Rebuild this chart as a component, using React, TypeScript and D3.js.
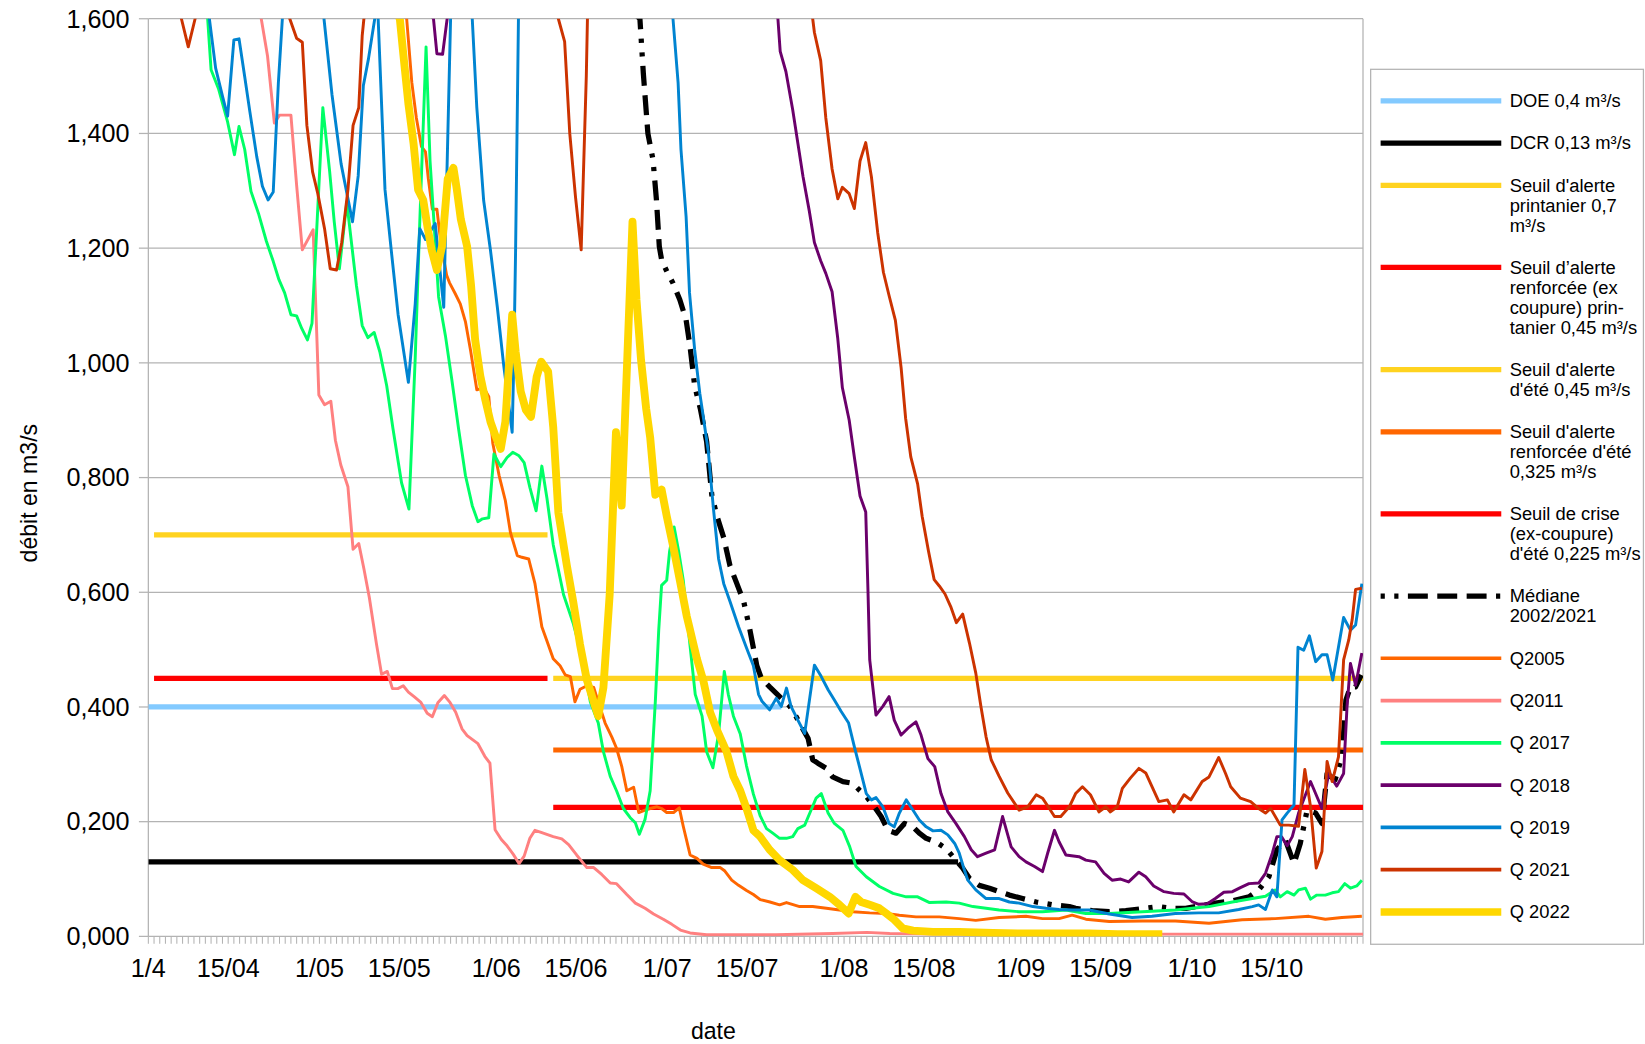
import React from 'react';
import * as d3 from 'd3';

type Pt = [number, number];

// ---------- axis data ----------
const tickDays = [0, 14, 30, 44, 61, 75, 91, 105, 122, 136, 153, 167, 183, 197];
const tickLabels = ['1/4', '15/04', '1/05', '15/05', '1/06', '15/06', '1/07', '15/07', '1/08', '15/08', '1/09', '15/09', '1/10', '15/10'];
const yTicks = [0, 0.2, 0.4, 0.6, 0.8, 1.0, 1.2, 1.4, 1.6];
const lastDay = 213; // 31/10, day 0 = 1/4

// ---------- thresholds ----------
const doe: Pt[] = [[0, 0.4], [111, 0.4]];
const dcr: Pt[] = [[0, 0.13], [142, 0.13]];
const seuilPrintanier: Pt[] = [[1, 0.7], [70, 0.7]];
const seuilRenfPrintanier: Pt[] = [[1, 0.45], [70, 0.45]];
const seuilEte: Pt[] = [[71, 0.45], [213, 0.45]];
const seuilRenfEte: Pt[] = [[71, 0.325], [213, 0.325]];
const seuilCrise: Pt[] = [[71, 0.225], [213, 0.225]];

// ---------- series (day since 1/4, débit m3/s) ----------
const mediane: Pt[] = [[0, 2.4], [86.2, 1.6], [86.8, 1.505], [87.6, 1.4], [88.5, 1.354], [89.1, 1.284], [89.6, 1.203], [90, 1.18], [90.8, 1.162], [92, 1.139], [93.2, 1.11], [94.3, 1.075], [95, 1.028], [95.8, 0.96], [96.8, 0.92], [97.9, 0.863], [98.8, 0.77], [99.7, 0.733], [100.9, 0.695], [102, 0.646], [103.2, 0.615], [104.4, 0.584], [105.5, 0.534], [106.7, 0.472], [107.5, 0.45], [108.95, 0.435], [110.7, 0.418], [112.5, 0.401], [113.6, 0.383], [115.7, 0.345], [116.5, 0.308], [117.4, 0.302], [118.9, 0.293], [120, 0.278], [121.8, 0.27], [123.5, 0.267], [124.7, 0.255], [125.9, 0.244], [127.3, 0.226], [128.5, 0.209], [129.7, 0.185], [131.1, 0.18], [132.6, 0.197], [134.1, 0.191], [135.2, 0.18], [136.4, 0.171], [138.1, 0.165], [139.9, 0.153], [141.6, 0.133], [142.8, 0.119], [144, 0.101], [145.7, 0.089], [147.5, 0.084], [149.2, 0.078], [151, 0.072], [153.3, 0.066], [155.7, 0.06], [158.6, 0.055], [161.5, 0.052], [162.6, 0.049], [165.5, 0.045], [168.5, 0.043], [171.4, 0.045], [174.9, 0.049], [177.2, 0.052], [179.5, 0.049], [181.9, 0.049], [184.2, 0.053], [187.1, 0.058], [190.1, 0.062], [193, 0.069], [194.7, 0.081], [196.5, 0.104], [197.9, 0.151], [199.4, 0.168], [200.9, 0.127], [202, 0.162], [203.2, 0.22], [204.7, 0.215], [205.8, 0.197], [206.7, 0.284], [208.1, 0.273], [209.3, 0.313], [210, 0.412], [210.8, 0.435], [211.7, 0.435], [212.7, 0.456]];

const q2005: Pt[] = [[0, 2.4], [45.3, 1.6], [46.2, 1.489], [47, 1.427], [47.9, 1.377], [48.6, 1.368], [49.1, 1.321], [49.8, 1.268], [50.6, 1.268], [51.3, 1.209], [52.3, 1.153], [52.8, 1.14], [53.8, 1.121], [54.7, 1.103], [55.6, 1.072], [56.5, 1.022], [57.6, 0.953], [58.8, 0.957], [59.7, 0.941], [60.4, 0.86], [61.5, 0.804], [62.6, 0.76], [63.5, 0.704], [64.7, 0.664], [65.5, 0.661], [66.7, 0.658], [67.8, 0.615], [69, 0.54], [69.9, 0.515], [71, 0.484], [72.2, 0.472], [73.1, 0.456], [74, 0.453], [74.8, 0.409], [75.7, 0.431], [76.9, 0.437], [78.1, 0.434], [78.9, 0.409], [80.1, 0.372], [81.3, 0.347], [82.1, 0.328], [83, 0.297], [83.9, 0.254], [85.1, 0.26], [86, 0.216], [87.1, 0.22], [88, 0.223], [89.2, 0.226], [90, 0.223], [90.9, 0.216], [92.1, 0.216], [93.1, 0.224], [93.8, 0.192], [95, 0.142], [96.2, 0.136], [97.3, 0.126], [98.8, 0.12], [100.3, 0.12], [101.1, 0.114], [102.3, 0.098], [103.5, 0.089], [104.9, 0.08], [106.1, 0.073], [107.3, 0.064], [109, 0.06], [110.7, 0.055], [111.9, 0.059], [114.2, 0.052], [116.5, 0.052], [118.9, 0.049], [121.2, 0.046], [123.5, 0.043], [126.5, 0.041], [129.4, 0.04], [131.7, 0.037], [134.6, 0.034], [138.7, 0.034], [142.2, 0.031], [145.1, 0.028], [149.2, 0.033], [153.9, 0.035], [156.8, 0.031], [159.7, 0.031], [162, 0.037], [164.4, 0.03], [168.5, 0.026], [174.3, 0.027], [180.1, 0.027], [186, 0.023], [191.8, 0.029], [197.6, 0.031], [203.5, 0.035], [206.4, 0.03], [209.3, 0.033], [212.8, 0.035]];

const q2011: Pt[] = [[0, 2.2], [19.8, 1.6], [20.9, 1.535], [22.1, 1.418], [23, 1.432], [25, 1.432], [26, 1.31], [27, 1.197], [28.9, 1.232], [29.9, 0.944], [30.9, 0.927], [32, 0.933], [32.8, 0.865], [33.75, 0.822], [35, 0.784], [35.9, 0.675], [36.9, 0.685], [37.8, 0.641], [38.75, 0.591], [40, 0.51], [40.9, 0.457], [41.9, 0.462], [42.8, 0.432], [43.75, 0.432], [44.7, 0.437], [45.6, 0.426], [46.6, 0.418], [47.8, 0.408], [48.9, 0.389], [49.8, 0.383], [50.8, 0.408], [51.9, 0.42], [52.9, 0.408], [53.9, 0.391], [55, 0.362], [55.9, 0.35], [57.8, 0.336], [59, 0.314], [59.9, 0.302], [60.8, 0.186], [61.9, 0.169], [62.9, 0.158], [64, 0.143], [65, 0.127], [65.9, 0.14], [66.9, 0.171], [67.8, 0.185], [69, 0.181], [71, 0.174], [72.5, 0.17], [73.7, 0.16], [75.1, 0.142], [76.9, 0.12], [78.1, 0.12], [79.5, 0.108], [81, 0.093], [82.1, 0.092], [83.9, 0.073], [85.4, 0.058], [87.1, 0.049], [88.6, 0.039], [90.3, 0.03], [91.8, 0.021], [93.3, 0.011], [95, 0.006], [97.9, 0.003], [110, 0.003], [120, 0.005], [126, 0.007], [130, 0.005], [140, 0.004], [160, 0.004], [180, 0.004], [213, 0.004]];

const q2017: Pt[] = [[0, 2.0], [10.4, 1.6], [11, 1.511], [12.3, 1.478], [13.9, 1.42], [15.1, 1.363], [15.9, 1.412], [16.9, 1.372], [18, 1.299], [19.3, 1.261], [20.7, 1.212], [21.9, 1.177], [22.9, 1.145], [23.9, 1.122], [25, 1.084], [26, 1.082], [26.9, 1.06], [27.9, 1.04], [28.7, 1.069], [30.6, 1.445], [31.8, 1.333], [32.6, 1.246], [33.5, 1.164], [34.8, 1.28], [36.5, 1.134], [37.5, 1.065], [38.5, 1.044], [39.6, 1.053], [40.6, 1.019], [41.8, 0.96], [42.9, 0.885], [44.4, 0.791], [45.7, 0.745], [46.8, 1.009], [47.6, 1.246], [48.7, 1.551], [49.4, 1.352], [50, 1.259], [50.9, 1.115], [52.1, 1.047], [53.2, 0.972], [54.4, 0.885], [55.6, 0.804], [56.8, 0.751], [57.8, 0.723], [58.6, 0.728], [59.7, 0.73], [60.6, 0.841], [61.8, 0.819], [62.9, 0.835], [63.9, 0.844], [65, 0.838], [65.9, 0.826], [66.9, 0.783], [68, 0.742], [69, 0.82], [69.9, 0.764], [71, 0.683], [72.8, 0.596], [74.5, 0.546], [76.3, 0.478], [77.5, 0.409], [78.9, 0.372], [79.8, 0.322], [81, 0.279], [82.1, 0.254], [83.3, 0.223], [84.5, 0.207], [85.4, 0.198], [86.1, 0.178], [87.1, 0.204], [88, 0.254], [88.9, 0.409], [89.5, 0.534], [90, 0.612], [90.9, 0.621], [91.4, 0.671], [92.2, 0.714], [93, 0.671], [93.8, 0.621], [94.7, 0.534], [95.9, 0.422], [97.1, 0.384], [97.9, 0.322], [99, 0.294], [100, 0.353], [101, 0.462], [101.7, 0.422], [102.6, 0.384], [103.8, 0.353], [104.9, 0.297], [106.1, 0.248], [107.3, 0.21], [108.4, 0.188], [109.5, 0.18], [110.7, 0.171], [111.9, 0.171], [113, 0.174], [113.9, 0.188], [115.1, 0.194], [116.2, 0.22], [117.1, 0.241], [118, 0.249], [119.2, 0.215], [120.3, 0.197], [121.8, 0.185], [123, 0.156], [124.1, 0.122], [125.9, 0.104], [128.2, 0.087], [130.6, 0.075], [132.9, 0.069], [134.9, 0.069], [137, 0.059], [139.9, 0.06], [142.2, 0.058], [144.6, 0.052], [146.9, 0.049], [149.2, 0.046], [152.7, 0.043], [156.8, 0.043], [160.9, 0.046], [164.4, 0.04], [168.5, 0.04], [174.3, 0.043], [180.1, 0.046], [186, 0.052], [190.1, 0.06], [193.6, 0.066], [195.9, 0.07], [197.6, 0.081], [198.5, 0.069], [199.7, 0.078], [200.9, 0.072], [201.7, 0.081], [202.9, 0.084], [203.8, 0.065], [204.9, 0.072], [206.4, 0.072], [207.6, 0.076], [208.7, 0.078], [209.8, 0.092], [210.8, 0.084], [211.9, 0.088], [212.8, 0.098]];

const q2018: Pt[] = [[0, 2.2], [50, 1.6], [50.6, 1.539], [51.6, 1.538], [52.4, 1.6], [80, 2.4], [110.4, 1.6], [110.8, 1.543], [111.8, 1.508], [113, 1.441], [113.9, 1.383], [114.8, 1.325], [115.9, 1.265], [116.8, 1.21], [117.9, 1.178], [118.8, 1.156], [119.9, 1.124], [120.9, 1.042], [121.7, 0.957], [122.9, 0.9], [123.8, 0.836], [124.8, 0.768], [125.8, 0.74], [126.2, 0.6], [126.5, 0.482], [127.6, 0.386], [128.8, 0.401], [129.9, 0.418], [130.8, 0.377], [132, 0.351], [133.2, 0.363], [134.6, 0.374], [135.5, 0.351], [136.7, 0.31], [137.9, 0.296], [139, 0.249], [140.2, 0.217], [141.6, 0.197], [143.1, 0.174], [144.3, 0.151], [145.4, 0.139], [146.9, 0.145], [148.4, 0.151], [149.8, 0.209], [151.3, 0.156], [152.7, 0.139], [153.9, 0.13], [155.4, 0.122], [156.8, 0.113], [157.7, 0.145], [158.9, 0.185], [159.7, 0.165], [160.9, 0.142], [163.2, 0.139], [164.4, 0.133], [166.1, 0.13], [167.6, 0.11], [169, 0.098], [170.5, 0.1], [171.9, 0.095], [173.7, 0.112], [174.9, 0.104], [176.3, 0.088], [178.1, 0.078], [179.8, 0.075], [181.6, 0.074], [183.1, 0.06], [184.2, 0.056], [185.7, 0.057], [187.1, 0.066], [188.6, 0.077], [190.1, 0.078], [191.5, 0.085], [193, 0.092], [194.7, 0.093], [195.9, 0.11], [197.1, 0.145], [197.9, 0.174], [198.7, 0.174], [199.7, 0.158], [200.6, 0.174], [201.7, 0.215], [203.8, 0.27], [205.8, 0.223], [207, 0.284], [208.4, 0.262], [209.6, 0.284], [210.2, 0.401], [210.8, 0.476], [211.7, 0.438], [212.8, 0.494]];

const q2019: Pt[] = [[0, 2.0], [10.7, 1.6], [11.8, 1.514], [13, 1.465], [13.9, 1.43], [15, 1.563], [15.9, 1.565], [16.9, 1.499], [17.8, 1.438], [19, 1.36], [20, 1.308], [21, 1.284], [21.9, 1.298], [22.8, 1.488], [23.5, 1.6], [27, 2.2], [30.8, 1.6], [32.2, 1.468], [33.8, 1.347], [35.8, 1.246], [36.8, 1.326], [37.7, 1.483], [38.6, 1.53], [39.7, 1.6], [40, 1.64], [40.3, 1.6], [41.5, 1.302], [42.6, 1.196], [43.8, 1.084], [45.6, 0.966], [46.8, 1.103], [47.6, 1.234], [48.6, 1.215], [50.3, 1.243], [51.8, 1.097], [53, 1.6], [54.5, 2.2], [56.8, 1.6], [57.6, 1.445], [58.8, 1.283], [60, 1.196], [61.2, 1.097], [62.3, 0.997], [63.8, 0.879], [64.1, 1.009], [64.4, 1.196], [64.9, 1.6], [78, 2.3], [92, 1.6], [92.9, 1.488], [93.4, 1.372], [94.3, 1.255], [94.9, 1.122], [95.8, 1.023], [96.7, 0.947], [97.3, 0.907], [98.2, 0.845], [99.1, 0.745], [100, 0.658], [100.9, 0.615], [102, 0.584], [103.5, 0.54], [104.9, 0.503], [106.1, 0.472], [107, 0.422], [107.6, 0.41], [108.95, 0.395], [110.1, 0.415], [111, 0.401], [111.9, 0.433], [112.7, 0.401], [113.9, 0.377], [115.1, 0.354], [116.8, 0.473], [118, 0.453], [119.2, 0.43], [120.3, 0.412], [121.5, 0.392], [122.8, 0.372], [123.8, 0.331], [124.7, 0.296], [125.9, 0.249], [126.8, 0.238], [127.6, 0.242], [128.8, 0.226], [129.9, 0.197], [130.8, 0.191], [131.7, 0.215], [132.9, 0.238], [134.1, 0.22], [135.2, 0.203], [136.4, 0.191], [137.6, 0.184], [139, 0.185], [140.2, 0.177], [141.4, 0.162], [142.2, 0.145], [142.9, 0.122], [143.7, 0.098], [145.1, 0.081], [146.9, 0.066], [149.2, 0.066], [151, 0.06], [152.7, 0.058], [155.1, 0.052], [157.4, 0.049], [159.7, 0.047], [162, 0.046], [165, 0.046], [168.5, 0.039], [172.5, 0.033], [176, 0.035], [180.1, 0.04], [184.2, 0.041], [187.7, 0.041], [191.2, 0.047], [193.6, 0.052], [194.7, 0.055], [195.9, 0.047], [197.1, 0.081], [197.9, 0.069], [198.8, 0.203], [199.7, 0.215], [200.9, 0.229], [201.6, 0.504], [202.6, 0.499], [203.6, 0.524], [204.7, 0.479], [205.8, 0.491], [206.7, 0.491], [207.7, 0.447], [209.6, 0.556], [210.8, 0.534], [211.7, 0.543], [212.8, 0.615]];

const q2021: Pt[] = [[0, 2.0], [5.8, 1.6], [7.0, 1.551], [8.2, 1.6], [16, 2.2], [24.8, 1.6], [26, 1.566], [27, 1.559], [27.8, 1.414], [28.8, 1.333], [29.7, 1.296], [30.9, 1.234], [31.9, 1.164], [33, 1.162], [33.9, 1.209], [35, 1.302], [35.9, 1.414], [36.9, 1.445], [37.5, 1.57], [37.8, 1.6], [55, 2.3], [71.9, 1.6], [73, 1.56], [73.9, 1.4], [74.9, 1.29], [75.9, 1.197], [76.8, 1.5], [77, 1.6], [95, 2.4], [116.5, 1.6], [116.8, 1.576], [117.9, 1.527], [118.8, 1.427], [119.9, 1.338], [120.9, 1.286], [121.7, 1.306], [122.9, 1.295], [123.8, 1.269], [124.8, 1.352], [125.8, 1.384], [126.8, 1.324], [127.9, 1.227], [128.9, 1.158], [129.9, 1.117], [131, 1.074], [132, 0.992], [132.8, 0.903], [133.7, 0.836], [134.9, 0.789], [135.7, 0.732], [136.8, 0.672], [137.8, 0.622], [138.7, 0.611], [139.7, 0.597], [140.7, 0.575], [141.7, 0.547], [142.8, 0.562], [144, 0.511], [145.1, 0.459], [146, 0.401], [146.9, 0.348], [147.8, 0.308], [149.2, 0.279], [150.7, 0.25], [152.7, 0.22], [154.2, 0.226], [155.7, 0.247], [156.8, 0.241], [158, 0.223], [158.9, 0.209], [160, 0.209], [161.5, 0.226], [162.6, 0.249], [163.8, 0.261], [165.2, 0.247], [166.7, 0.217], [167.9, 0.226], [168.7, 0.217], [169.9, 0.226], [170.8, 0.258], [172.2, 0.276], [173.7, 0.293], [174.9, 0.285], [176, 0.261], [177.2, 0.235], [178.7, 0.238], [179.8, 0.217], [181.6, 0.247], [182.8, 0.238], [184.8, 0.27], [186, 0.278], [187.7, 0.312], [188.9, 0.284], [189.8, 0.261], [191.5, 0.241], [193.3, 0.235], [194.7, 0.223], [195.9, 0.215], [196.8, 0.223], [198.5, 0.194], [200, 0.194], [201.7, 0.192], [202.8, 0.291], [203.8, 0.226], [204.8, 0.119], [205.8, 0.148], [206.7, 0.305], [207.6, 0.27], [208.7, 0.313], [209.6, 0.482], [210.5, 0.517], [211.1, 0.552], [211.7, 0.605], [212.8, 0.607]];

const q2022: Pt[] = [[0, 2.4], [44.1, 1.6], [44.7, 1.539], [45.6, 1.452], [46.5, 1.383], [47.3, 1.302], [48.2, 1.284], [49, 1.234], [49.7, 1.196], [50.6, 1.162], [51.5, 1.203], [52.5, 1.321], [53.5, 1.34], [54.1, 1.302], [54.8, 1.25], [55.9, 1.203], [56.6, 1.134], [57.3, 1.041], [58.2, 0.978], [59.1, 0.935], [60, 0.897], [60.9, 0.872], [61.8, 0.85], [62.6, 0.897], [63.8, 1.084], [64.4, 1.02], [65.3, 0.95], [66.2, 0.918], [67.1, 0.906], [68.1, 0.976], [68.9, 1.002], [70.1, 0.985], [71, 0.888], [71.9, 0.739], [73.4, 0.646], [74.5, 0.584], [75.7, 0.509], [76.9, 0.447], [78.1, 0.409], [78.9, 0.384], [79.8, 0.434], [80.9, 0.596], [82, 0.879], [83, 0.751], [84.9, 1.246], [85.6, 1.11], [86.4, 1.005], [87.3, 0.92], [88, 0.87], [88.9, 0.77], [90, 0.779], [90.9, 0.733], [92.1, 0.677], [93.2, 0.621], [94.4, 0.559], [95, 0.534], [96.2, 0.484], [97.3, 0.447], [98.5, 0.391], [99.7, 0.36], [101.4, 0.322], [102.6, 0.279], [103.8, 0.254], [104.9, 0.223], [106.1, 0.185], [107.2, 0.175], [108.95, 0.151], [110.7, 0.133], [113, 0.116], [114.8, 0.098], [117.1, 0.084], [119.5, 0.069], [121.2, 0.055], [122.8, 0.04], [124, 0.069], [125, 0.06], [126.5, 0.055], [128.2, 0.049], [129.4, 0.04], [130.8, 0.029], [132.3, 0.014], [134.1, 0.01], [137.6, 0.008], [142.2, 0.008], [148.1, 0.006], [153.9, 0.005], [159.7, 0.005], [165, 0.005], [170, 0.004], [177.8, 0.004]];

// ---------- legend labels ----------
const legendLabels: string[][] = [
  ['DOE 0,4 m³/s'],
  ['DCR 0,13 m³/s'],
  ["Seuil d'alerte", 'printanier 0,7', 'm³/s'],
  ['Seuil d’alerte', 'renforcée (ex', 'coupure) prin-', 'tanier 0,45 m³/s'],
  ["Seuil d'alerte", "d'été 0,45 m³/s"],
  ["Seuil d'alerte", "renforcée d'été", '0,325 m³/s'],
  ['Seuil de crise', '(ex-coupure)', "d'été 0,225 m³/s"],
  ['Médiane', '2002/2021'],
  ['Q2005'],
  ['Q2011'],
  ['Q 2017'],
  ['Q 2018'],
  ['Q 2019'],
  ['Q 2021'],
  ['Q 2022'],
];

// ---------- layout / styles (design units, scaled to 1645x1044) ----------
const VW = 1568;
const VH = 995;
const M = { left: 141.4, right: 1299.2, top: 17.8, bottom: 892.5 };
const FONT = "'Liberation Sans', Arial, sans-serif";
const GRID = '#b3b3b3';
const MEDIAN_DASH = '4 9 4 9 19 9 19 9 19 9';

type Style = { color: string; width: number; dash?: string; legendWidth: number };
const styles: Style[] = [
  { color: '#83caff', width: 5, legendWidth: 5 },
  { color: '#000000', width: 5, legendWidth: 5 },
  { color: '#ffd320', width: 5, legendWidth: 5 },
  { color: '#ff0000', width: 5, legendWidth: 5 },
  { color: '#ffd320', width: 5, legendWidth: 5 },
  { color: '#ff6600', width: 5, legendWidth: 5 },
  { color: '#ff0000', width: 5, legendWidth: 5 },
  { color: '#000000', width: 5, dash: MEDIAN_DASH, legendWidth: 5 },
  { color: '#ff6600', width: 2.8, legendWidth: 3.5 },
  { color: '#ff8080', width: 2.8, legendWidth: 3.5 },
  { color: '#00ff66', width: 2.8, legendWidth: 3.5 },
  { color: '#6b006b', width: 2.8, legendWidth: 3.5 },
  { color: '#0084d1', width: 2.8, legendWidth: 3.5 },
  { color: '#cc3300', width: 2.8, legendWidth: 3.5 },
  { color: '#ffd700', width: 7.5, legendWidth: 7 },
];
const seriesData: Pt[][] = [doe, dcr, seuilPrintanier, seuilRenfPrintanier, seuilEte, seuilRenfEte, seuilCrise, mediane, q2005, q2011, q2017, q2018, q2019, q2021, q2022];

const fmt = (v: number) => d3.format('.3f')(v).replace('.', ',');

export default function App() {
  const x = d3.scaleLinear().domain([0, lastDay]).range([M.left, M.right]);
  const y = d3.scaleLinear().domain([0, 1.6]).range([M.bottom, M.top]);
  const line = d3.line<Pt>().x((d) => x(d[0])).y((d) => y(d[1]));
  const days = d3.range(0, lastDay + 1);

  // legend layout
  const legX0 = 1316, legX1 = 1431, legTextX = 1439;
  const step = 40.3, lh = 19;
  let ly = 96;
  const legendYs: number[] = [];
  legendLabels.forEach((lines) => {
    legendYs.push(ly);
    ly += step + lh * (lines.length - 1);
  });

  return (
    <svg
      width={1645}
      height={1044}
      viewBox={`0 0 ${VW} ${VH}`}
      style={{ position: 'absolute', left: 0, top: 0, display: 'block', background: '#fff' }}
      fontFamily={FONT}
    >
      <rect x={0} y={0} width={VW} height={VH} fill="#fff" />
      <defs>
        <clipPath id="plotClip">
          <rect x={M.left} y={M.top} width={M.right - M.left} height={M.bottom - M.top} />
        </clipPath>
      </defs>

      {/* grid */}
      {yTicks.map((t) => (
        <line key={'g' + t} x1={M.left} x2={M.right} y1={y(t)} y2={y(t)} stroke={GRID} strokeWidth={1.2} />
      ))}
      <line x1={M.left} x2={M.left} y1={M.top} y2={M.bottom} stroke={GRID} strokeWidth={1.2} />
      <line x1={M.right} x2={M.right} y1={M.top} y2={M.bottom} stroke={GRID} strokeWidth={1.2} />

      {/* y ticks and labels */}
      {yTicks.map((t) => (
        <g key={'y' + t}>
          <line x1={M.left - 9} x2={M.left} y1={y(t)} y2={y(t)} stroke={GRID} strokeWidth={1.2} />
          <text x={123.5} y={y(t)} dy="0.35em" textAnchor="end" fontSize={24} fill="#000">
            {fmt(t)}
          </text>
        </g>
      ))}

      {/* x minor ticks */}
      {days.map((d) => (
        <line key={'t' + d} x1={x(d)} x2={x(d)} y1={M.bottom} y2={M.bottom + 7} stroke={GRID} strokeWidth={1} />
      ))}
      {tickDays.map((d, i) => (
        <text key={'xl' + d} x={x(d)} y={931} textAnchor="middle" fontSize={24} fill="#000">
          {tickLabels[i]}
        </text>
      ))}

      {/* axis titles */}
      <text transform="translate(35,470) rotate(-90)" textAnchor="middle" fontSize={22} fill="#000">
        débit en m3/s
      </text>
      <text x={680} y={990} textAnchor="middle" fontSize={22} fill="#000">
        date
      </text>

      {/* series */}
      <g clipPath="url(#plotClip)">
        {seriesData.map((data, i) => (
          <path
            key={'s' + i}
            d={line(data) || ''}
            fill="none"
            stroke={styles[i].color}
            strokeWidth={styles[i].width}
            strokeDasharray={styles[i].dash}
            strokeLinejoin="round"
            strokeLinecap="butt"
          />
        ))}
      </g>

      {/* legend */}
      <rect x={1306.5} y={66} width={260} height={834} fill="#fff" stroke={GRID} strokeWidth={1.2} />
      {legendLabels.map((lines, i) => (
        <g key={'l' + i}>
          <line
            x1={legX0}
            x2={legX1}
            y1={legendYs[i]}
            y2={legendYs[i]}
            stroke={styles[i].color}
            strokeWidth={styles[i].legendWidth}
            strokeDasharray={styles[i].dash}
          />
          {lines.map((t, j) => (
            <text key={j} x={legTextX} y={legendYs[i] + j * lh} dy="0.35em" fontSize={17.5} fill="#000">
              {t}
            </text>
          ))}
        </g>
      ))}
    </svg>
  );
}
